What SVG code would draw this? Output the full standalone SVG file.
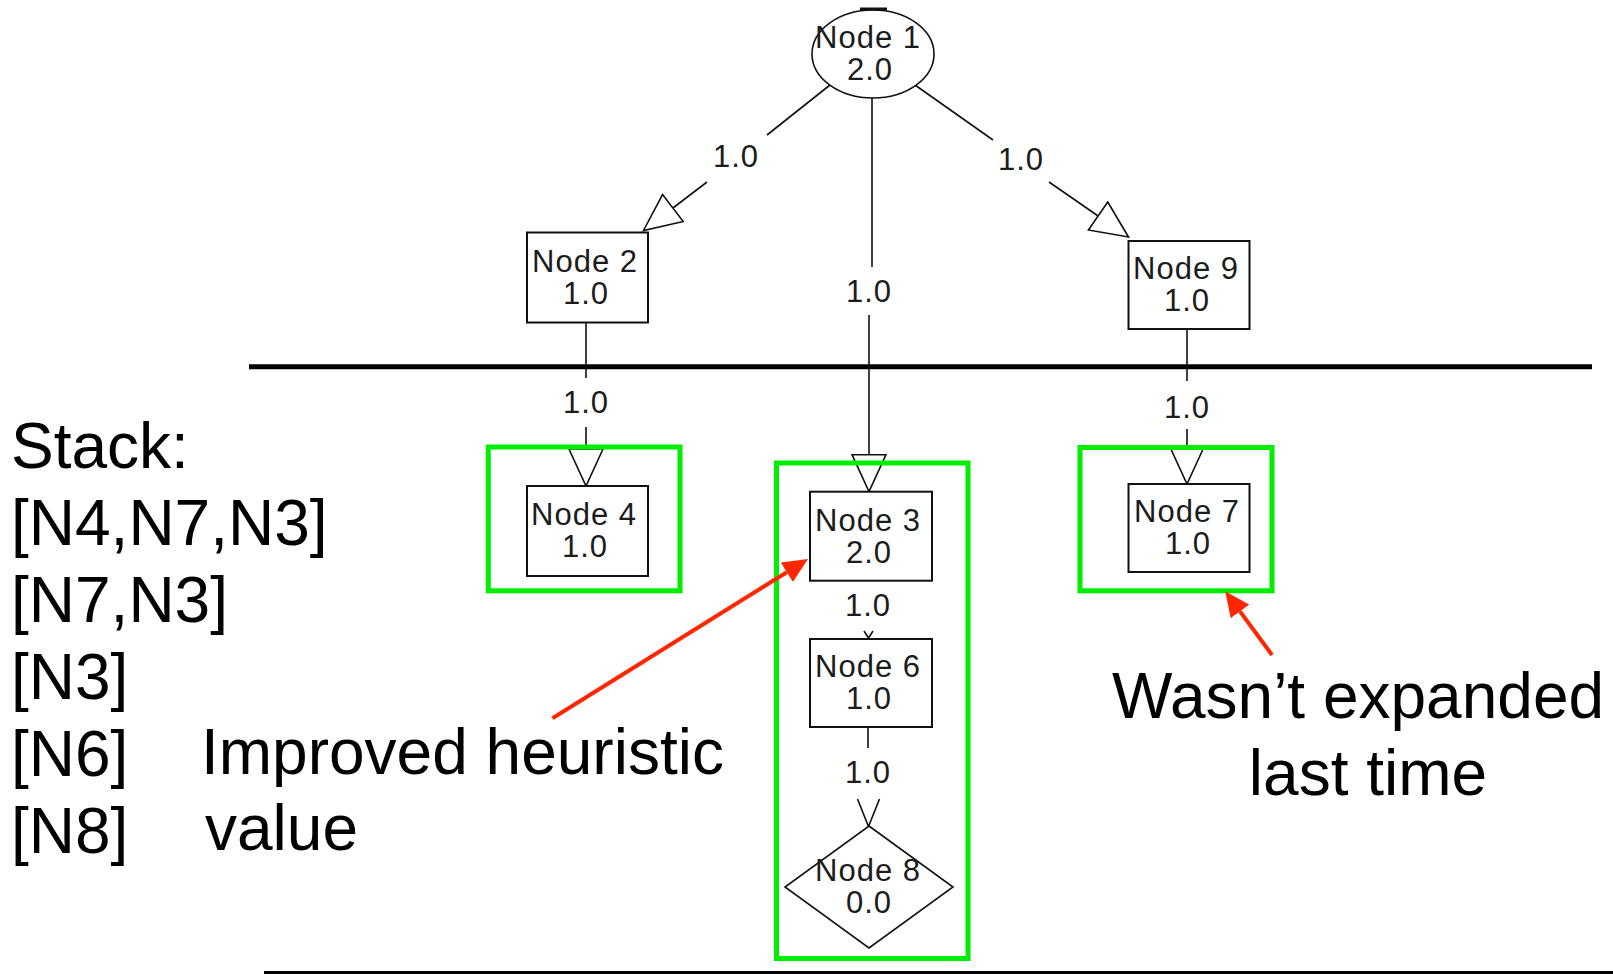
<svg xmlns="http://www.w3.org/2000/svg" width="1613" height="974" viewBox="0 0 1613 974">
<style>
.nb{fill:#fff;stroke:#111;stroke-width:2}
.nt{font-family:"Liberation Sans",Arial,sans-serif;font-size:31px;letter-spacing:1px;fill:#1c1c1c;text-anchor:middle}
.el{font-family:"Liberation Sans",Arial,sans-serif;font-size:31px;letter-spacing:1px;fill:#1c1c1c;text-anchor:middle}
.ed{fill:none;stroke:#111;stroke-width:1.6}
.big{font-family:"Liberation Sans",Arial,sans-serif;font-size:64px;fill:#000}
.hl{fill:none;stroke:#00ee00;stroke-width:5}
.red{fill:none;stroke:#ff2600;stroke-width:4}
</style>
<defs>
<marker id="hollow" markerUnits="userSpaceOnUse" markerWidth="40" markerHeight="36" viewBox="0 0 40 36" refX="38" refY="18" orient="auto">
<path d="M1,1 L38,18 L1,35 Z" fill="#fff" stroke="#111" stroke-width="1.6"/>
</marker>
<marker id="redhead" markerUnits="userSpaceOnUse" markerWidth="26" markerHeight="24" viewBox="0 0 26 24" refX="0" refY="12" orient="auto">
<path d="M0,0.5 L25,12 L0,23.5 Z" fill="#ff2600"/>
</marker>
</defs>

<g id="rules">
<line x1="249" y1="366.7" x2="1592" y2="366.7" stroke="#000" stroke-width="5"/>
<line x1="264" y1="972.5" x2="1613" y2="972.5" stroke="#000" stroke-width="3"/>
</g>

<g id="connectors">
<path class="ed" d="M830,85 L767,135"/>
<path class="ed" d="M707,182 L643.5,230.5" marker-end="url(#hollow)"/>
<text class="el" x="736" y="167">1.0</text>
<path class="ed" d="M872,98 L872,267"/>
<path class="ed" d="M869,315 L869,491.7" marker-end="url(#hollow)"/>
<text class="el" x="869" y="302">1.0</text>
<path class="ed" d="M915,85 L993,140"/>
<path class="ed" d="M1049,182 L1128.5,237" marker-end="url(#hollow)"/>
<text class="el" x="1021" y="170">1.0</text>
<path class="ed" d="M586,322.5 L586,378"/>
<path class="ed" d="M586,427 L586,486" marker-end="url(#hollow)"/>
<text class="el" x="586" y="413">1.0</text>
<path class="ed" d="M1187,329 L1187,381"/>
<path class="ed" d="M1187,429 L1187,484" marker-end="url(#hollow)"/>
<text class="el" x="1187" y="418">1.0</text>
<path class="ed" d="M864,631 L868.5,638 L873,631"/>
<text class="el" x="868" y="616">1.0</text>
<path class="ed" d="M868,727 L868,748"/>
<path class="ed" d="M857.5,799 L868.5,826.5 L879.5,799"/>
<text class="el" x="868" y="783">1.0</text>
</g>

<g id="node1">
<ellipse cx="873" cy="54" rx="61" ry="44" fill="#fff" stroke="#111" stroke-width="1.6"/>
<line x1="860" y1="9" x2="887" y2="9" stroke="#111" stroke-width="3"/>
<text class="nt" x="868" y="48">Node 1</text>
<text class="nt" x="870" y="80">2.0</text>
</g>
<g id="node2">
<rect class="nb" x="527" y="232.5" width="121" height="90"/>
<text class="nt" x="585" y="272">Node 2</text>
<text class="nt" x="586" y="304">1.0</text>
</g>
<g id="node9">
<rect class="nb" x="1128.5" y="241" width="121" height="88"/>
<text class="nt" x="1186" y="279">Node 9</text>
<text class="nt" x="1187" y="311">1.0</text>
</g>
<g id="node4">
<rect class="nb" x="527" y="486" width="121" height="90"/>
<text class="nt" x="584" y="525">Node 4</text>
<text class="nt" x="585" y="557">1.0</text>
</g>
<g id="node3">
<rect class="nb" x="810" y="491.7" width="122" height="89"/>
<text class="nt" x="868" y="530.7">Node 3</text>
<text class="nt" x="869" y="562.7">2.0</text>
</g>
<g id="node6">
<rect class="nb" x="810" y="639" width="122" height="88"/>
<text class="nt" x="868" y="676.5">Node 6</text>
<text class="nt" x="869" y="708.5">1.0</text>
</g>
<g id="node8">
<polygon points="869,826 953,887 869,948 785,887" fill="#fff" stroke="#111" stroke-width="1.6"/>
<text class="nt" x="868" y="880.7">Node 8</text>
<text class="nt" x="869" y="913">0.0</text>
</g>
<g id="node7">
<rect class="nb" x="1128.5" y="484" width="121" height="88"/>
<text class="nt" x="1187" y="522">Node 7</text>
<text class="nt" x="1188" y="554">1.0</text>
</g>

<g id="highlights">
<rect class="hl" x="488.3" y="447" width="191.7" height="143.8"/>
<rect class="hl" x="776.5" y="463" width="191.5" height="495.5"/>
<rect class="hl" x="1080" y="447.5" width="192" height="143.3"/>
</g>

<g id="stack">
<text class="big" x="11" y="468">Stack:</text>
<text class="big" x="11" y="545">[N4,N7,N3]</text>
<text class="big" x="11" y="622">[N7,N3]</text>
<text class="big" x="11" y="699">[N3]</text>
<text class="big" x="11" y="776">[N6]</text>
<text class="big" x="11" y="853">[N8]</text>
</g>

<g id="annotations">
<line class="red" x1="552.5" y1="718.3" x2="786.8" y2="572.2" marker-end="url(#redhead)"/>
<text class="big" x="201" y="774">Improved heuristic</text>
<text class="big" x="205" y="850">value</text>
<line class="red" x1="1272" y1="655" x2="1240" y2="611.4" marker-end="url(#redhead)"/>
<text class="big" x="1358" y="718" text-anchor="middle">Wasn’t expanded</text>
<text class="big" x="1368" y="795" text-anchor="middle">last time</text>
</g>
</svg>
